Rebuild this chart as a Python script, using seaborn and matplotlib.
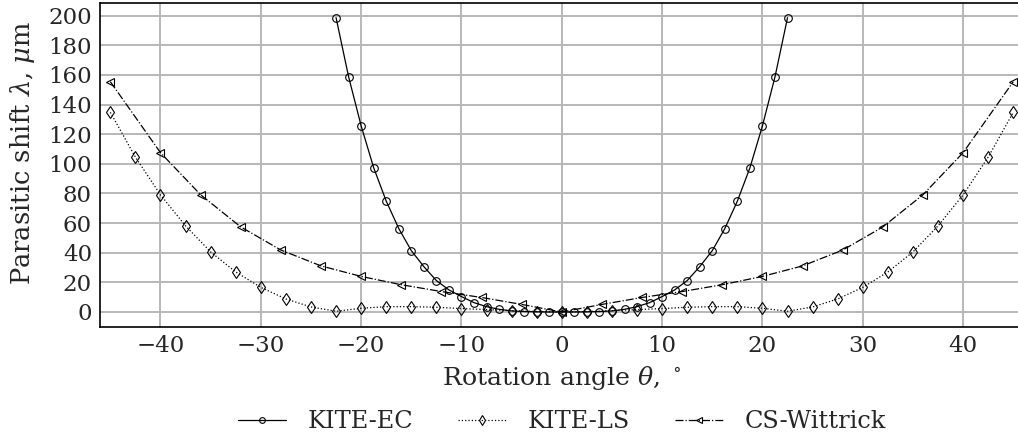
import numpy as np
import pandas as pd
import matplotlib
matplotlib.use("Agg")
import matplotlib.pyplot as plt
import seaborn as sns

# ---- data ----
ec_theta_pos = [0, 1.25, 2.5, 3.75, 5, 6.25, 7.5, 8.75, 10, 11.25, 12.5, 13.75,
                15, 16.25, 17.5, 18.75, 20, 21.25, 22.5]
ec_shift_pos = [0, 0.0, 0.1, 0.3, 0.7, 1.8, 3.6, 6.3, 10.4, 14.9, 21.2, 30.6,
                41.4, 56.3, 74.8, 97.3, 125.6, 158.7, 198.6]

ls_theta_pos = [0, 2.5, 5, 7.5, 10, 12.5, 15, 17.5, 20, 22.5, 25, 27.5, 30,
                32.5, 35, 37.5, 40, 42.5, 45]
ls_shift_pos = [0, 0.3, 0.9, 1.6, 2.3, 3.2, 3.6, 3.6, 2.5, 0.5, 3.4, 8.8, 16.6,
                27.0, 40.5, 58.1, 79.0, 104.5, 134.7]

cw_theta_pos = [0, 4, 8, 12, 16, 20, 24, 28, 32, 36, 40, 45]
cw_shift_pos = [0, 5.1, 9.8, 13.8, 18.4, 24.0, 31.1, 41.8, 57.4, 79.1, 107.5, 155.4]

series_names = ["KITE-EC", "KITE-LS", "CS-Wittrick"]
x_ticks = [-40, -30, -20, -10, 0, 10, 20, 30, 40]
y_ticks = [0, 20, 40, 60, 80, 100, 120, 140, 160, 180, 200]


def mirror(th, val):
    th = np.asarray(th, float)
    val = np.asarray(val, float)
    x = np.concatenate([-th[:0:-1], th])
    y = np.concatenate([val[:0:-1], val])
    return x, y


sns.set_style("white")
plt.rcParams["font.family"] = ["DejaVu Serif"]
plt.rcParams["mathtext.fontset"] = "dejavuserif"
plt.rcParams["font.size"] = 16

fig = plt.figure(figsize=(10.18, 4.42), dpi=100)
ax = fig.add_axes([100.3 / 1018, 1 - 326.7 / 442, 923 / 1018, 323.7 / 442])

styles = [
    dict(marker="o", ls="-", ms=5.5),
    dict(marker="d", ls=":", ms=6.5),
    dict(marker="<", ls="-.", ms=6),
]
datasets = [mirror(ec_theta_pos, ec_shift_pos),
            mirror(ls_theta_pos, ls_shift_pos),
            mirror(cw_theta_pos, cw_shift_pos)]

for name, (x, y), st in zip(series_names, datasets, styles):
    df = pd.DataFrame({"theta": x, "shift": y})
    sns.lineplot(data=df, x="theta", y="shift", ax=ax, color="black",
                 marker=st["marker"], linestyle=st["ls"], markersize=st["ms"],
                 markerfacecolor="none", markeredgecolor="black",
                 markeredgewidth=0.8, linewidth=0.9, label=name, sort=False,
                 zorder=3)

ax.set_xlim(-46, 46)
ax.set_ylim(-9.93, 208.5)
ax.set_xticks(x_ticks)
ax.set_yticks(y_ticks)
ax.set_xticklabels([f"\u2212{abs(t)}" if t < 0 else str(t) for t in x_ticks])
ax.grid(True, color="#b8b8b8", linewidth=1.4, zorder=0)
ax.set_axisbelow(True)
ax.tick_params(axis="both", direction="in", length=7, width=1.2,
               labelsize=16.5, top=False, right=False, pad=6, color="black")
for s in ax.spines.values():
    s.set_color("black")
    s.set_linewidth(1.2)

ax.set_xlabel(r"Rotation angle $\theta$, $^\circ$", fontsize=18.2, labelpad=5)
ax.set_ylabel(r"Parasitic shift $\lambda$, $\mu$m", fontsize=18.5, labelpad=8)
ax.yaxis.label.set_y(0.537)

handles, labels = ax.get_legend_handles_labels()
ax.get_legend().remove()
fig.legend(handles, labels, loc="center", ncol=3, frameon=False,
           bbox_to_anchor=(562 / 1018, 1 - 422 / 442), fontsize=17.3,
           columnspacing=1.85, handlelength=2.0, handletextpad=0.9,
           markerscale=0.75)

fig.savefig("out.png", dpi=100)
